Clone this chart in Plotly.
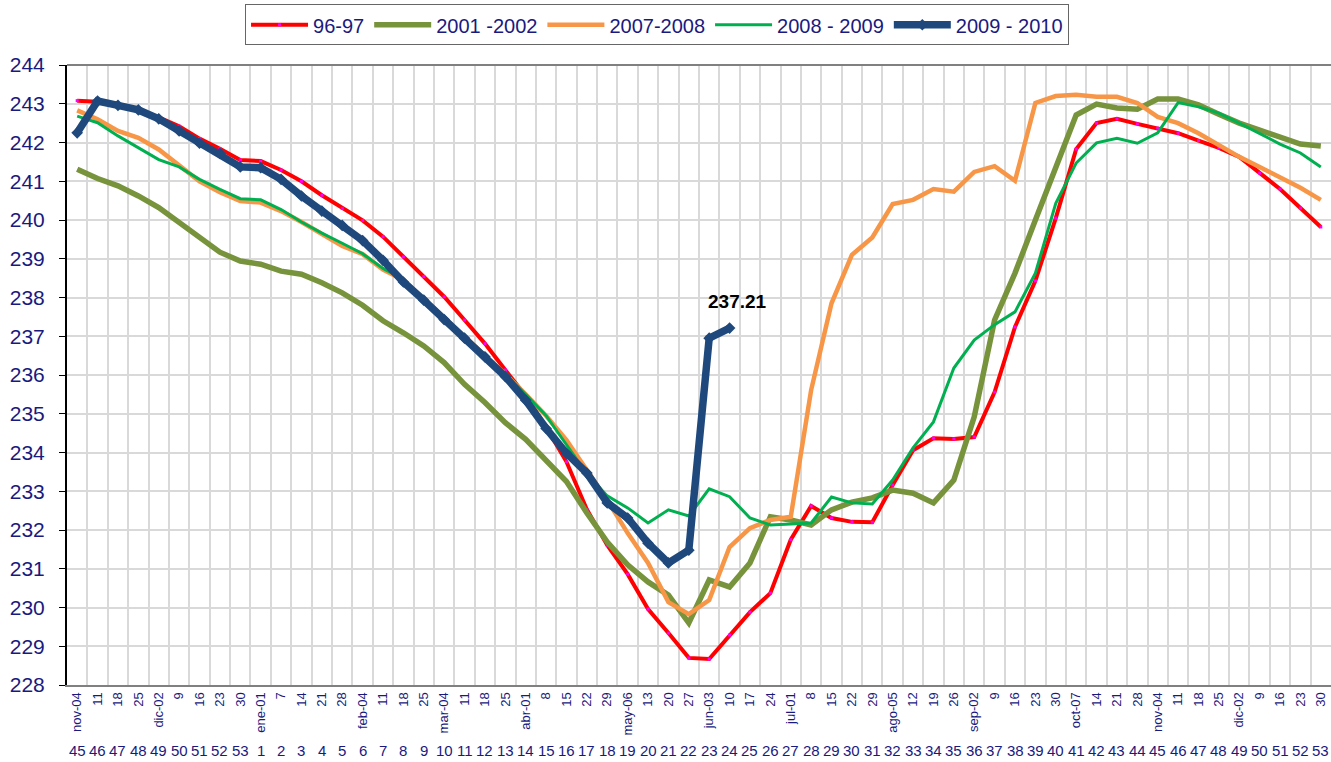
import plotly.graph_objects as go

date_labels = ["nov-04", "11", "18", "25", "dic-02", "9", "16", "23", "30", "ene-01",
               "7", "14", "21", "28", "feb-04", "11", "18", "25", "mar-04", "11",
               "18", "25", "abr-01", "8", "15", "22", "29", "may-06", "13", "20",
               "27", "jun-03", "10", "17", "24", "jul-01", "8", "15", "22", "29",
               "ago-05", "12", "19", "26", "sep-02", "9", "16", "23", "30", "oct-07",
               "14", "21", "28", "nov-04", "11", "18", "25", "dic-02", "9", "16",
               "23", "30"]
week_labels = [45, 46, 47, 48, 49, 50, 51, 52, 53] + list(range(1, 54))

s_96_97 = [243.08, 243.05, 242.97, 242.85, 242.65, 242.42, 242.10, 241.84, 241.55, 241.52,
           241.29, 241.00, 240.64, 240.30, 239.99, 239.57, 239.05, 238.54, 238.02, 237.42,
           236.81, 236.13, 235.46, 234.65, 233.76, 232.53, 231.61, 230.86, 229.96, 229.34,
           228.70, 228.67, 229.29, 229.88, 230.37, 231.75, 232.62, 232.31, 232.21, 232.20,
           233.16, 234.06, 234.37, 234.35, 234.40, 235.56, 237.24, 238.43, 240.05, 241.83,
           242.50, 242.61, 242.48, 242.37, 242.24, 242.05, 241.86, 241.63, 241.21, 240.80,
           240.31, 239.82]
s_2001_2002 = [241.31, 241.07, 240.88, 240.62, 240.32, 239.95, 239.54, 239.17, 238.94, 238.86,
               238.68, 238.60, 238.38, 238.12, 237.80, 237.40, 237.09, 236.75, 236.32, 235.76,
               235.29, 234.77, 234.34, 233.80, 233.25, 232.44, 231.69, 231.10, 230.66, 230.32,
               229.60, 230.71, 230.53, 231.15, 232.34, 232.26, 232.13, 232.52, 232.72, 232.83,
               233.03, 232.95, 232.70, 233.29, 234.92, 237.42, 238.63, 240.00, 241.37, 242.71,
               242.99, 242.89, 242.86, 243.12, 243.12, 242.97, 242.73, 242.50, 242.32, 242.14,
               241.96, 241.91]
s_2007_2008 = [242.83, 242.60, 242.30, 242.12, 241.82, 241.41, 241.00, 240.72, 240.49, 240.45,
               240.23, 239.95, 239.63, 239.33, 239.12, 238.72, 238.45, 237.97, 237.48, 236.98,
               236.52, 236.02, 235.50, 234.95, 234.32, 233.55, 232.77, 231.92, 231.15, 230.14,
               229.83, 230.19, 231.56, 232.05, 232.26, 232.34, 235.61, 237.85, 239.10, 239.55,
               240.41, 240.52, 240.80, 240.73, 241.24, 241.39, 241.01, 243.02, 243.20, 243.23,
               243.18, 243.18, 243.02, 242.66, 242.50, 242.24, 241.94, 241.63, 241.37, 241.11,
               240.83, 240.52]
s_2008_2009 = [242.68, 242.51, 242.17, 241.87, 241.56, 241.37, 241.05, 240.79, 240.55, 240.52,
               240.27, 239.95, 239.66, 239.40, 239.13, 238.75, 238.47, 237.97, 237.47, 236.97,
               236.52, 236.03, 235.50, 234.95, 234.20, 233.45, 232.88, 232.57, 232.18, 232.52,
               232.36, 233.06, 232.86, 232.31, 232.13, 232.15, 232.18, 232.85, 232.70, 232.67,
               233.29, 234.12, 234.79, 236.18, 236.90, 237.30, 237.63, 238.63, 240.43, 241.47,
               241.99, 242.11, 241.98, 242.25, 243.03, 242.92, 242.76, 242.50, 242.24, 241.96,
               241.73, 241.37]
s_2009_2010 = [242.25, 243.07, 242.96, 242.84, 242.61, 242.30, 241.98, 241.72, 241.37, 241.35,
               241.05, 240.62, 240.23, 239.86, 239.47, 238.96, 238.40, 237.93, 237.43, 236.95,
               236.47, 235.96, 235.35, 234.62, 233.98, 233.47, 232.70, 232.31, 231.66, 231.15,
               231.48, 236.95, 237.21]

series_names = ["96-97", "2001 -2002", "2007-2008", "2008 - 2009", "2009 - 2010"]
y_ticks = list(range(228, 245))

NAVY = "#1a1a7e"
FONT = "Liberation Sans, Arial, sans-serif"
x_all = list(range(len(date_labels)))

fig = go.Figure()
fig.add_trace(go.Scatter(
    x=x_all, y=s_96_97, name=series_names[0], mode="lines+markers",
    line=dict(color="#FF0000", width=4),
    marker=dict(symbol="square", size=3, color="#FF00FF", line=dict(width=0))))
fig.add_trace(go.Scatter(
    x=x_all, y=s_2001_2002, name=series_names[1], mode="lines",
    line=dict(color="#77933C", width=5.5)))
fig.add_trace(go.Scatter(
    x=x_all, y=s_2007_2008, name=series_names[2], mode="lines",
    line=dict(color="#F79646", width=4.5)))
fig.add_trace(go.Scatter(
    x=x_all, y=s_2008_2009, name=series_names[3], mode="lines",
    line=dict(color="#00B050", width=3)))
fig.add_trace(go.Scatter(
    x=x_all[:len(s_2009_2010)], y=s_2009_2010, name=series_names[4], mode="lines+markers",
    line=dict(color="#1F497D", width=7.5),
    marker=dict(symbol="diamond", size=9, color="#1F497D")))

last_i = len(s_2009_2010) - 1
fig.add_annotation(x=last_i, y=s_2009_2010[last_i], text=f"<b>{s_2009_2010[last_i]:.2f}</b>",
                   showarrow=False, yshift=27, xshift=8,
                   font=dict(family=FONT, size=19, color="black"))

for i, w in enumerate(week_labels):
    fig.add_annotation(x=i, y=-0.106, xref="x", yref="paper", text=str(w),
                       showarrow=False, yanchor="middle",
                       font=dict(family=FONT, size=15, color=NAVY))

fig.update_layout(
    width=1331, height=762,
    margin=dict(l=67, r=0, t=65, b=77),
    paper_bgcolor="white", plot_bgcolor="white",
    font=dict(family=FONT, color=NAVY),
    showlegend=True,
    legend=dict(orientation="h", x=0.4668, xanchor="center", y=1.098, yanchor="top",
                font=dict(size=20, color=NAVY), bordercolor="#666666", borderwidth=1,
                bgcolor="white", itemwidth=57, traceorder="normal"),
    xaxis=dict(range=[-0.5, len(date_labels) - 0.5], tickmode="array", tickvals=x_all,
               ticktext=date_labels, tickangle=-90, showgrid=False, ticks="",
               tickfont=dict(size=13, color=NAVY), ticklabeloverflow="allow",
               showline=True, linecolor="#808080", linewidth=2, mirror=False,
               minor=dict(tickmode="array", tickvals=[k - 0.5 for k in range(1, len(date_labels))],
                          showgrid=True, gridcolor="#D9D9D9", gridwidth=2, ticks=""),
               zeroline=False),
    yaxis=dict(range=[228, 244], tickmode="array", tickvals=y_ticks,
               tickfont=dict(size=21, color=NAVY), showgrid=True, gridcolor="#D9D9D9",
               gridwidth=2, ticks="outside", ticklen=6, tickcolor="black",
               ticklabelstandoff=10,
               showline=True, linecolor="black", linewidth=2, zeroline=False),
)
fig.add_shape(type="line", xref="paper", yref="paper", x0=0, x1=1, y0=1, y1=1,
              line=dict(color="#808080", width=2))

fig.write_html("out.html", config={"displayModeBar": False},
               post_script="document.body.style.margin='0px';")
